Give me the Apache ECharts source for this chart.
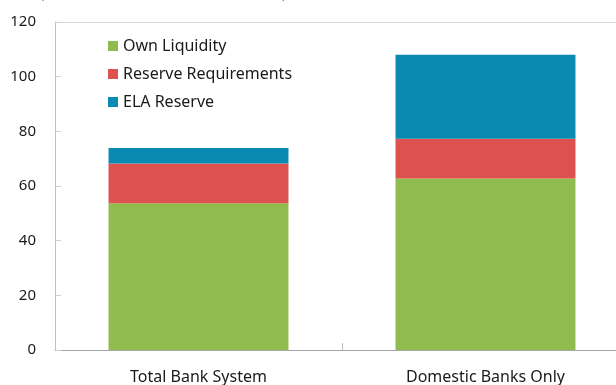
<!DOCTYPE html>
<html>
<head>
<meta charset="utf-8">
<script src="https://cdn.jsdelivr.net/npm/echarts@6/dist/echarts.min.js"></script>
<style>
  html, body { margin: 0; padding: 0; background: #fff; overflow: hidden; width: 616px; height: 385px; }
  /* the plot runs slightly past the right edge of the window */
  #chart { width: 629px; height: 385px; }
</style>
</head>
<body>
<div id="chart"></div>
<script>
// Liquidity buffers by bank group (percent)
const categories = ['Total Bank System', 'Domestic Banks Only'];
const ownLiquidity = [53.7, 62.7];
const reserveRequirements = [14.5, 14.6];
const elaReserve = [5.7, 30.7];
const yTicks = { min: 0, max: 120, interval: 20 };

const FONT = '"Noto Sans", "Open Sans", sans-serif';
const chart = echarts.init(document.getElementById('chart'), null, { renderer: 'canvas' });

const gridLeft = 55, gridTop = 22, gridBottom = 34, gridRight = 0;
const W = 629;

chart.setOption({
  animation: false,
  textStyle: { fontFamily: FONT },
  grid: { left: gridLeft, top: gridTop, bottom: gridBottom, right: gridRight, containLabel: false },
  legend: {
    orient: 'vertical',
    left: 103,
    top: 32,
    icon: 'rect',
    itemWidth: 10,
    itemHeight: 10,
    itemGap: 10,
    textStyle: { fontFamily: FONT, fontSize: 16, color: '#1a1a1a', lineHeight: 18 },
    data: ['Own Liquidity', 'Reserve Requirements', 'ELA Reserve']
  },
  xAxis: {
    type: 'category',
    data: categories,
    axisLine: { show: true, lineStyle: { color: '#a6a6a6', width: 1 } },
    axisTick: { show: true, inside: true, length: 7, alignWithLabel: false, lineStyle: { color: '#bfbfbf' } },
    axisLabel: { fontFamily: FONT, fontSize: 16, color: '#1a1a1a', margin: 19 }
  },
  yAxis: {
    type: 'value',
    min: yTicks.min,
    max: yTicks.max,
    interval: yTicks.interval,
    axisLine: { show: true, lineStyle: { color: '#bfbfbf', width: 1 } },
    axisTick: { show: true, inside: true, length: 6, lineStyle: { color: '#d0d0d0' } },
    splitLine: { show: false },
    axisLabel: { fontFamily: FONT, fontSize: 15, color: '#1a1a1a', margin: 19 }
  },
  graphic: [
    // top frame line
    { type: 'line', shape: { x1: gridLeft, y1: gridTop + 0.5, x2: W, y2: gridTop + 0.5 },
      style: { stroke: '#d9d9d9', lineWidth: 1 }, silent: true },
    // subtitle running off the top
    { type: 'text', left: 20, top: -14,
      style: { text: '(In percent of short-term liabilities, end-period)', fontFamily: FONT, fontSize: 14, fill: '#2a9fd6' } }
  ],
  series: [
    { name: 'Own Liquidity', type: 'bar', stack: 'buf', data: ownLiquidity, barWidth: '62.7%',
      itemStyle: { color: '#8FBB4F' } },
    { name: 'Reserve Requirements', type: 'bar', stack: 'buf', data: reserveRequirements,
      itemStyle: { color: '#DD514F' } },
    { name: 'ELA Reserve', type: 'bar', stack: 'buf', data: elaReserve,
      itemStyle: { color: '#0A8AB1' } }
  ]
});
</script>
</body>
</html>
